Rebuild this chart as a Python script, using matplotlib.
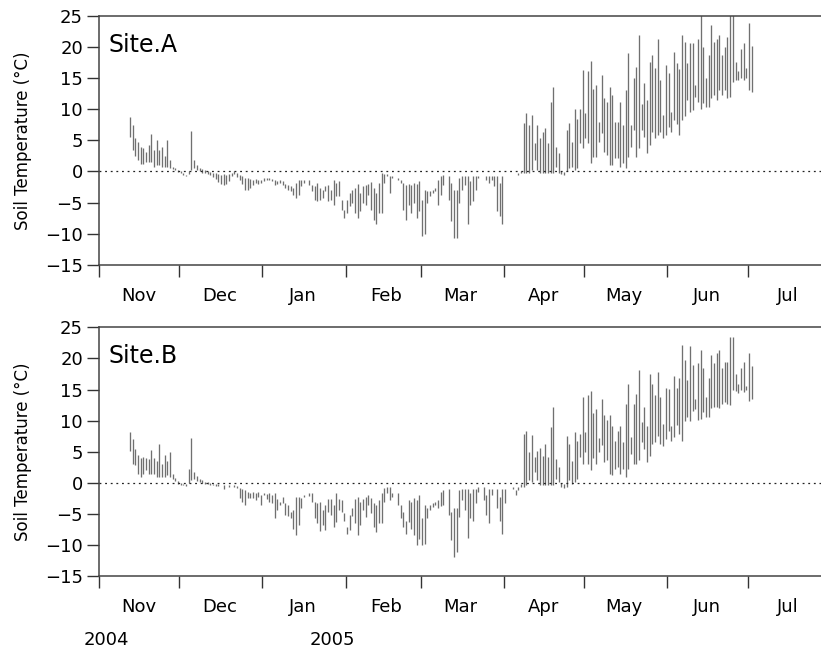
import numpy as np
import pandas as pd
import matplotlib
matplotlib.use('Agg')
import matplotlib.pyplot as plt
import matplotlib.dates as mdates

nan = np.nan
plt.rcParams['font.family'] = ['DejaVu Sans']

# daily max / min soil temperature, site A (Nov 12 2004 - Jul 2 2005)
a_nov_hi = [8.8, 7.5, 5.3, 4.7, 4.0, 3.8, 3.2, 4.2, 6.0, 3.5, 5.0, 3.5, 4.0, 2.5, 5.0, 1.8, 0.8, 0.5, 0.3]
a_nov_lo = [5.5, 3.5, 2.5, 1.8, 1.2, 1.2, 1.5, 1.5, 1.5, 0.8, 1.0, 1.0, 0.8, 0.8, 0.8, 0.5, 0.4, 0.2, -0.1]
a_dec_hi = [0.0, -0.2, -0.5, 0.0, 6.5, 1.8, 1.0, 0.5, 0.4, 0.3, 0.1, -0.1, -0.2, -0.3, -0.4, -0.5, -0.4, -0.6,
            -0.4, -0.2, 0.0, -0.3, -0.5, -0.8, -1.0, -1.1, -1.2, -1.3, -1.2, -1.4, -1.3]
a_dec_lo = [-0.3, -0.5, -0.8, -0.4, 0.3, 0.5, 0.2, 0.0, -0.2, -0.2, -0.4, -0.6, -0.9, -1.2, -1.7, -2.0, -2.1, -2.0,
            -1.5, -0.8, -0.4, -0.9, -1.4, -2.0, -3.0, -3.0, -2.6, -2.1, -1.9, -2.0, -1.9]
a_jan_hi = [-1.1, -1.1, -1.0, -1.2, -1.4, -1.5, -1.3, -1.6, -2.0, -2.2, -2.4, -2.7, -1.9, -1.4, -1.3, -1.4, nan,
            -1.3, -2.1, -2.4, -1.9, -2.7, -3.0, -2.4, -2.1, -3.0, -1.3, -1.9, -1.6, -4.5, -6.1]
a_jan_lo = [-1.6, -1.4, -1.3, -1.5, -2.1, -2.0, -1.8, -2.2, -2.7, -3.0, -3.2, -3.7, -4.3, -3.7, -2.4, -1.9, nan,
            -2.1, -3.2, -4.5, -4.8, -4.5, -4.3, -3.2, -4.8, -4.5, -5.3, -4.0, -4.0, -6.1, -7.5]
a_feb_hi = [-4.5, -3.4, -3.0, -2.7, -2.0, -3.4, -2.4, -2.1, -2.0, -1.7, -2.7, -3.5, -1.9, -0.3, -0.4, -0.4, -0.7,
            -0.7, nan, -1.1, -1.3, -1.9, -2.1, -2.0, -2.1, -1.9, -2.0, -1.6]
a_feb_lo = [-6.7, -5.6, -5.1, -6.7, -7.5, -6.4, -5.1, -5.4, -3.7, -6.1, -7.8, -8.5, -6.7, -6.7, -1.8, -0.8, -3.4,
            -1.1, nan, -1.3, -1.9, -6.1, -7.8, -5.3, -6.7, -5.1, -7.5, -6.4]
a_mar_hi = [-4.5, -3.0, -3.2, -3.2, -2.9, -2.7, -1.3, -0.7, -0.5, nan, -0.7, -1.9, -2.9, -2.9, -1.1, -0.7, -0.7,
            -0.7, -1.6, -0.7, -0.7, -0.7, nan, nan, -0.7, -0.7, -0.7, -0.7, -0.7, -1.9, -0.7]
a_mar_lo = [-10.4, -10.1, -5.1, -4.0, -3.5, -3.2, -5.3, -3.7, -2.1, nan, -4.5, -8.0, -10.7, -10.7, -5.1, -2.9, -2.1,
            -8.5, -5.3, -4.8, -2.9, -1.1, nan, nan, -1.3, -1.9, -1.3, -2.4, -6.4, -7.2, -8.5]
a_apr_hi = [nan, nan, nan, nan, nan, -0.3, 0.0, 7.8, 9.4, 7.5, 9.1, 4.5, 7.5, 5.3, 6.4, 6.9, 4.5, 11.2, 13.6, 4.0,
            2.9, 0.0, -0.1, 6.7, 7.8, 4.8, 10.1, 8.5, 10.1, 16.3]
a_apr_lo = [nan, nan, nan, nan, nan, -0.6, -0.3, -0.3, -0.3, -0.3, 0.3, 1.9, 0.3, -0.3, -0.3, -0.3, -0.3, -0.3, -0.3,
            0.8, -0.3, -0.4, -0.5, 0.0, 0.5, 0.8, 0.3, 0.5, 4.5, 3.7]
a_may_hi = [9.4, 16.1, 17.7, 13.3, 13.9, 8.0, 15.5, 11.8, 11.2, 13.6, 12.3, 8.0, 8.0, 11.2, 7.5, 13.1, 19.0, 7.5,
            15.0, 16.8, 21.9, 10.9, 14.2, 11.5, 17.6, 18.7, 16.6, 21.2, 14.7, 9.1, 17.1]
a_may_lo = [5.3, 4.6, 1.4, 2.4, 2.4, 4.8, 6.1, 3.2, 2.7, 1.1, 1.1, 2.1, 2.1, 0.8, 1.3, 0.5, 2.4, 4.0, 6.7, 2.4, 3.7,
            6.7, 5.6, 2.9, 4.3, 6.4, 5.3, 5.9, 6.4, 5.3, 5.9]
a_jun_hi = [15.8, 9.6, 19.2, 17.4, 16.4, 21.9, 20.8, 17.4, 20.6, 20.6, 13.9, 21.2, 26.0, 19.9, 15.0, 18.7, 23.5,
            20.8, 21.2, 21.9, 18.7, 20.0, 21.5, 26.0, 26.0, 17.6, 16.2, 19.6, 20.6, 16.6]
a_jun_lo = [7.2, 6.4, 8.3, 7.7, 5.9, 8.3, 8.9, 11.5, 9.6, 9.9, 12.0, 11.2, 10.0, 11.0, 10.4, 10.4, 11.8, 12.3, 11.5,
            13.1, 12.3, 13.1, 11.8, 11.9, 14.4, 14.7, 14.7, 15.0, 14.7, 15.0]
a_jul_hi = [23.8, 20.1]
a_jul_lo = [13.1, 12.7]

# site B
b_nov_hi = [8.2, 7.0, 5.5, 4.5, 4.0, 4.2, 4.0, 3.8, 5.3, 4.0, 3.5, 6.3, 3.0, 4.5, 3.5, 5.0, 1.5, 0.8, 0.3]
b_nov_lo = [5.2, 3.1, 2.8, 1.5, 1.0, 1.5, 2.0, 1.5, 1.5, 1.5, 1.0, 1.0, 1.0, 1.0, 1.2, 1.0, 0.6, 0.3, -0.2]
b_dec_hi = [0.0, -0.1, -0.2, 2.3, 7.2, 1.8, 1.1, 0.6, 0.4, 0.2, 0.1, 0.0, -0.1, -0.1, -0.2, nan, -0.3, nan, -0.4,
            nan, -0.3, -0.5, -0.8, -0.9, -1.2, -1.5, -1.6, -1.5, -1.7, -1.5, -1.9]
b_dec_lo = [-0.4, -0.4, -0.5, 0.0, 0.5, 0.7, 0.3, 0.1, 0.0, -0.1, -0.2, -0.3, -0.4, -0.5, -0.5, nan, -1.0, nan, -0.6,
            nan, -0.6, -0.8, -2.5, -3.1, -3.6, -2.5, -2.4, -2.5, -2.8, -2.2, -3.6]
b_jan_hi = [-1.7, -1.8, -1.7, -2.0, -1.7, -2.6, -3.1, -2.3, -3.3, -3.6, -4.7, -4.4, -2.3, -2.3, -2.4, -2.0, nan,
            -1.7, -1.7, -3.0, -3.3, -3.1, -4.4, -3.6, -2.6, -2.6, -3.6, -1.7, -2.6, -2.8, -4.8]
b_jan_lo = [-2.0, -2.6, -3.1, -3.3, -5.7, -4.4, -3.5, -3.3, -5.1, -5.3, -5.7, -7.4, -8.4, -6.8, -4.0, -2.3, nan,
            -2.1, -3.1, -5.7, -6.5, -7.8, -6.8, -7.5, -4.7, -5.2, -7.1, -6.3, -4.4, -4.7, -6.2]
b_feb_hi = [-7.1, -5.1, -4.0, -2.6, -2.3, -3.1, -2.6, -2.3, -2.0, -2.5, -3.3, -3.6, -2.8, -1.7, -0.8, -0.7, -0.7,
            -1.7, nan, -1.7, -3.6, -4.7, -6.2, -2.8, -3.1, -2.5, -2.8, -2.0]
b_feb_lo = [-8.2, -7.6, -5.3, -6.5, -8.4, -6.8, -4.4, -5.5, -3.6, -4.9, -7.1, -7.9, -6.5, -6.5, -3.1, -1.7, -2.8,
            -2.3, nan, -3.6, -5.7, -7.1, -8.2, -6.3, -7.4, -8.4, -10.0, -9.0]
b_mar_hi = [-5.7, -3.6, -4.1, -3.6, -3.3, -3.1, -2.8, -1.5, -1.2, nan, -1.0, -4.7, -4.1, -4.0, -1.2, -1.0, -1.0,
            -1.0, -1.7, -1.0, -1.0, -0.7, nan, -0.7, -1.9, -0.9, -1.0, nan, -1.0, -2.3, -1.0]
b_mar_lo = [-9.9, -9.8, -5.7, -4.4, -3.9, -3.6, -4.1, -3.7, -3.6, nan, -5.1, -9.2, -11.9, -11.1, -5.5, -2.8, -4.4,
            -8.9, -5.7, -6.2, -3.3, -1.5, nan, -2.8, -5.1, -6.5, -1.9, nan, -4.0, -6.2, -8.2]
b_apr_hi = [-1.0, nan, nan, -0.7, -1.2, -0.7, -0.1, 7.9, 8.4, 5.0, 7.7, 4.2, 5.2, 5.6, 4.4, 6.3, 4.2, 9.0, 12.2,
            3.9, 2.6, 0.0, -0.2, 7.5, 6.3, 3.5, 8.2, 6.7, 7.9, 13.8]
b_apr_lo = [-3.3, nan, nan, -1.0, -2.0, -1.2, -0.7, -0.7, -0.4, 0.4, 0.15, 1.75, 0.4, -0.4, -0.4, -0.4, -0.4, -0.4,
            -0.4, 0.7, 0.15, -0.7, -0.8, -0.7, 0.4, -0.1, 0.15, 0.7, 4.2, 3.1]
b_may_hi = [8.2, 14.1, 14.7, 11.3, 11.8, 7.2, 13.4, 10.9, 10.1, 10.9, 9.1, 6.8, 8.4, 9.2, 6.6, 12.7, 15.9, 7.4,
            12.7, 14.3, 18.1, 9.8, 12.2, 9.1, 17.5, 15.9, 14.1, 17.8, 13.8, 9.5, 15.2]
b_may_lo = [5.0, 3.0, 2.1, 4.0, 3.1, 5.0, 6.1, 3.4, 3.6, 1.5, 1.2, 2.3, 2.6, 1.5, 2.3, 0.95, 2.3, 4.7, 3.1, 3.1,
            3.6, 6.6, 5.5, 3.4, 4.4, 6.3, 6.6, 7.6, 6.3, 6.0, 7.1]
b_jun_hi = [15.1, 9.1, 17.2, 15.2, 16.9, 22.1, 19.7, 16.5, 22.0, 18.9, 13.4, 19.2, 21.3, 18.5, 13.8, 16.9, 20.5,
            19.2, 20.8, 21.3, 18.5, 19.4, 19.4, 23.4, 23.4, 17.5, 15.9, 18.5, 19.4, 15.6]
b_jun_lo = [8.3, 6.8, 7.4, 9.3, 7.9, 6.8, 9.9, 10.6, 9.9, 11.5, 11.8, 10.1, 10.2, 11.4, 10.6, 10.6, 12.0, 12.2,
            12.2, 12.0, 12.7, 13.0, 12.6, 12.5, 14.9, 14.7, 14.5, 14.9, 14.6, 14.9]
b_jul_hi = [20.8, 18.8]
b_jul_lo = [13.1, 13.4]

months = ['Nov', 'Dec', 'Jan', 'Feb', 'Mar', 'Apr', 'May', 'Jun', 'Jul']
days = pd.date_range('2004-11-12', '2005-07-02', freq='D')

site_a_hi = np.concatenate([a_nov_hi, a_dec_hi, a_jan_hi, a_feb_hi, a_mar_hi, a_apr_hi, a_may_hi, a_jun_hi, a_jul_hi])
site_a_lo = np.concatenate([a_nov_lo, a_dec_lo, a_jan_lo, a_feb_lo, a_mar_lo, a_apr_lo, a_may_lo, a_jun_lo, a_jul_lo])
site_b_hi = np.concatenate([b_nov_hi, b_dec_hi, b_jan_hi, b_feb_hi, b_mar_hi, b_apr_hi, b_may_hi, b_jun_hi, b_jul_hi])
site_b_lo = np.concatenate([b_nov_lo, b_dec_lo, b_jan_lo, b_feb_lo, b_mar_lo, b_apr_lo, b_may_lo, b_jun_lo, b_jul_lo])

x = mdates.date2num(days.to_pydatetime()) + 0.5
x0 = mdates.date2num(pd.Timestamp('2004-11-01').to_pydatetime())
month_starts = mdates.date2num(pd.date_range('2004-11-01', '2005-07-01', freq='MS').to_pydatetime())
month_mids = month_starts + 15

fig = plt.figure(figsize=(8.21, 6.53), dpi=100)
ax_a = fig.add_axes([0.1206, 0.5942, 0.8794, 0.3818])
ax_b = fig.add_axes([0.1206, 0.1175, 0.8794, 0.3813])

for ax, hi, lo, name in [(ax_a, site_a_hi, site_a_lo, 'Site.A'), (ax_b, site_b_hi, site_b_lo, 'Site.B')]:
    ax.vlines(x, lo, hi, colors='#707070', linewidth=0.95)
    ax.axhline(0, color='#222222', linewidth=0.9, linestyle=(0, (1.5, 3)))
    ax.set_xlim(x0, x0 + 269.4)
    ax.set_ylim(-15, 25)
    ax.set_yticks(np.arange(-15, 26, 5))
    ax.set_xticks(month_starts)
    ax.set_xticklabels([])
    ax.set_xticks(month_mids, minor=True)
    ax.set_xticklabels(months, minor=True)
    ax.tick_params(axis='x', which='major', length=8.5, width=1.0, color='#333333', direction='out')
    ax.tick_params(axis='x', which='minor', length=0, pad=16, labelsize=13)
    ax.tick_params(axis='y', length=8.5, width=1.0, color='#333333', pad=3, labelsize=13)
    ax.spines['right'].set_visible(False)
    for s in ['top', 'left', 'bottom']:
        ax.spines[s].set_color('#444444')
        ax.spines[s].set_linewidth(1.1)
    ax.set_ylabel('Soil Temperature (°C)', fontsize=12)
    ax.yaxis.set_label_coords(-0.093, 0.5)
    ax.text(0.0125, 0.855, name, transform=ax.transAxes, fontsize=17, va='baseline', ha='left')

fig.text(106 / 821, 1 - 640 / 653, '2004', fontsize=13, ha='center', va='center')
fig.text(332 / 821, 1 - 640 / 653, '2005', fontsize=13, ha='center', va='center')

fig.savefig('out.png', dpi=100)
